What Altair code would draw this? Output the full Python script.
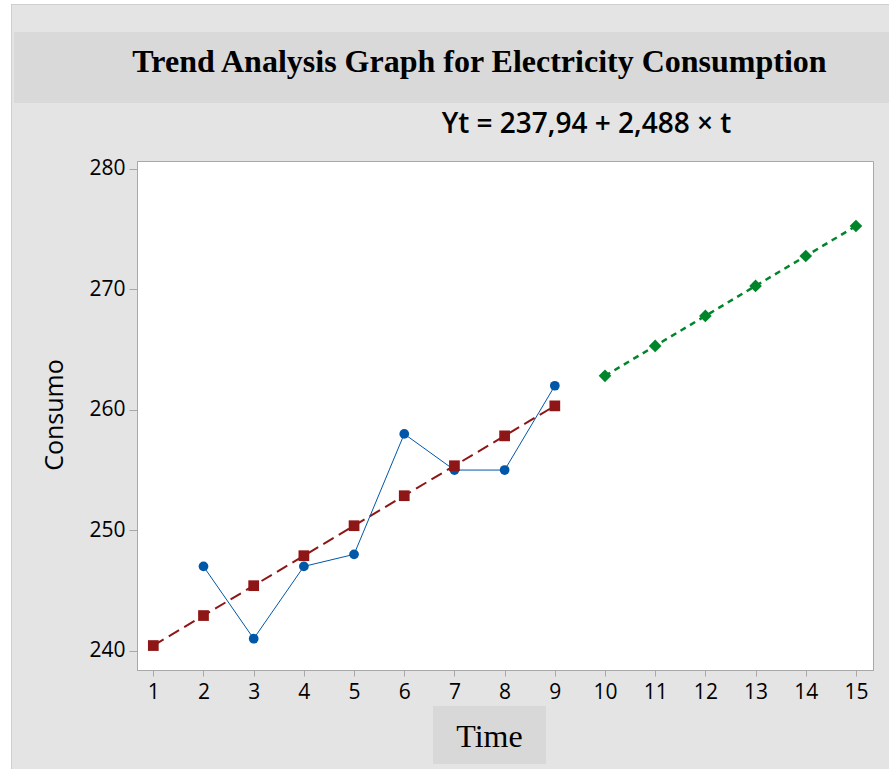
import altair as alt
import pandas as pd

# ---- data ----
t_actual = [2, 3, 4, 5, 6, 7, 8, 9]
consumo = [247, 241, 247, 248, 258, 255, 255, 262]
t_trend = [1, 2, 3, 4, 5, 6, 7, 8, 9]
trend = [240.43, 242.92, 245.40, 247.89, 250.38, 252.87, 255.36, 257.84, 260.33]
t_fc = [10, 11, 12, 13, 14, 15]
forecast = [262.82, 265.31, 267.80, 270.29, 272.77, 275.26]
x_ticks = list(range(1, 16))
y_ticks = [240, 250, 260, 270, 280]

title_text = "Trend Analysis Graph for Electricity Consumption"
subtitle_text = "Yt = 237,94 + 2,488 × t"
x_title = "Time"
y_title = "Consumo"

W, H = 736, 509
PL, PT = 137, 161

df_a = pd.DataFrame({"t": t_actual, "v": consumo})
df_t = pd.DataFrame({"t": t_trend, "v": trend})
df_f = pd.DataFrame({"t": t_fc, "v": forecast})
one = pd.DataFrame({"k": [0]})

xs = alt.Scale(domain=[0.675, 15.34], nice=False, zero=False)
ys = alt.Scale(domain=[238.4, 280.66], nice=False, zero=False)

xaxis = alt.Axis(values=x_ticks, title=None, grid=False, labelFont="Open Sans",
                 labelFontSize=21, labelFontWeight=500, labelColor="black",
                 tickSize=6, labelPadding=5,
                 tickColor="#a8a8a8", domainColor="#a8a8a8", labelAngle=0,
                 labelFlush=False, labelOverlap=False)
yaxis = alt.Axis(values=y_ticks, title=None, grid=False, labelFont="Open Sans",
                 labelFontSize=21, labelFontWeight=500, labelColor="black",
                 tickSize=8, labelPadding=4,
                 tickColor="#a8a8a8", domainColor="#a8a8a8",
                 labelFlush=False, labelOverlap=False)

BLUE = "#0057a8"
RED = "#8e1616"
GREEN = "#00852a"

enc_x = alt.X("t:Q", scale=xs, axis=xaxis)
enc_y = alt.Y("v:Q", scale=ys, axis=yaxis)

blue_line = alt.Chart(df_a).mark_line(color=BLUE, strokeWidth=1).encode(x=enc_x, y=enc_y)
blue_pts = alt.Chart(df_a).mark_point(shape="circle", filled=True, color=BLUE, size=95, opacity=1).encode(x=enc_x, y=enc_y)
red_line = alt.Chart(df_t).mark_line(color=RED, strokeWidth=2, strokeDash=[12, 6]).encode(x=enc_x, y=enc_y)
red_pts = alt.Chart(df_t).mark_point(shape="square", filled=True, color=RED, size=115, opacity=1).encode(x=enc_x, y=enc_y)
green_line = alt.Chart(df_f).mark_line(color=GREEN, strokeWidth=2.5, strokeDash=[6, 5]).encode(x=enc_x, y=enc_y)
green_pts = alt.Chart(df_f).mark_point(shape="diamond", filled=True, color=GREEN, size=160, opacity=1).encode(x=enc_x, y=enc_y)

base = alt.Chart(one)

# decorations (pixel positions relative to the plot origin)
white_left = base.mark_rect(color="white").encode(
    x=alt.value(-PL), x2=alt.value(11 - PL), y=alt.value(-PT), y2=alt.value(769 - PT))
white_top = base.mark_rect(color="white").encode(
    x=alt.value(-PL), x2=alt.value(889 - PL), y=alt.value(-PT), y2=alt.value(4 - PT))
border_left = base.mark_rule(color="#cfcfcf", strokeWidth=1).encode(
    x=alt.value(11.5 - PL), y=alt.value(4 - PT), y2=alt.value(769 - PT))
border_top = base.mark_rule(color="#cfcfcf", strokeWidth=1).encode(
    x=alt.value(11 - PL), x2=alt.value(889 - PL), y=alt.value(4.5 - PT))
title_band = base.mark_rect(color="#d9d9d9").encode(
    x=alt.value(14 - PL), x2=alt.value(889 - PL), y=alt.value(32 - PT), y2=alt.value(103 - PT))
title = base.mark_text(font="Liberation Serif", fontSize=32, fontWeight="bold",
                       color="black", align="center", baseline="alphabetic").encode(
    x=alt.value(479.5 - PL), y=alt.value(72 - PT), text=alt.value(title_text))
subtitle = base.mark_text(font="Open Sans", fontSize=28, fontWeight=600,
                          color="black", align="center", baseline="alphabetic").encode(
    x=alt.value(586.5 - PL), y=alt.value(133 - PT), text=alt.value(subtitle_text))
ytitle = base.mark_text(font="Open Sans", fontSize=25, fontWeight=500, color="black", angle=270,
                        align="center", baseline="middle").encode(
    x=alt.value(55 - PL), y=alt.value(415 - PT), text=alt.value(y_title))
time_box = base.mark_rect(color="#d8d8d8").encode(
    x=alt.value(433 - PL), x2=alt.value(546 - PL), y=alt.value(706 - PT), y2=alt.value(764 - PT))
xtitle = base.mark_text(font="Liberation Serif", fontSize=32, color="black",
                        align="center", baseline="alphabetic").encode(
    x=alt.value(489.5 - PL), y=alt.value(746.5 - PT), text=alt.value(x_title))

chart = alt.layer(
    white_left, white_top, border_left, border_top, title_band, title, subtitle,
    ytitle, time_box, xtitle,
    red_line, blue_line, green_line, blue_pts, red_pts, green_pts,
).properties(
    width=W, height=H,
    padding={"left": PL, "top": PT, "right": 889 - PL - W, "bottom": 769 - PT - H},
    autosize=alt.AutoSizeParams(type="none"),
).configure(background="#e4e4e4").configure_view(
    fill="white", stroke="#a8a8a8", strokeWidth=1
)

chart.save("out.html", embed_options={"renderer": "svg", "actions": False})
